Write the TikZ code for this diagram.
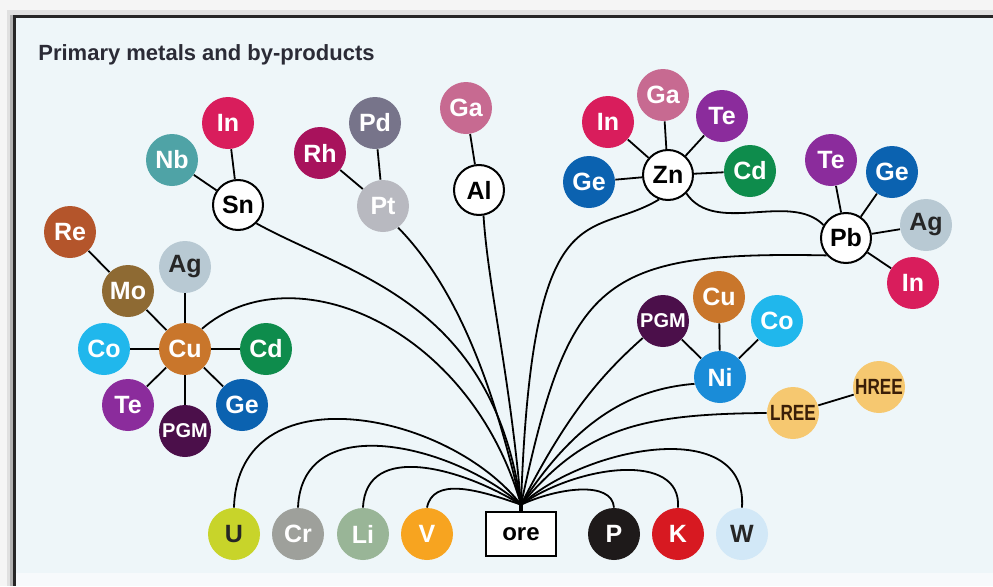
\documentclass[tikz,border=0pt]{standalone}
\usepackage{fontspec}
\setmainfont{Liberation Sans}
\usepackage{xcolor}
\usepackage{tikz}
\usetikzlibrary{positioning, calc}
\definecolor{panel}{HTML}{EEF6F9}
\definecolor{titletxt}{HTML}{2B2B36}
\definecolor{inred}{HTML}{D91D5C}
\definecolor{nbteal}{HTML}{4FA3A6}
\definecolor{rhmag}{HTML}{A8125C}
\definecolor{pdgray}{HTML}{77748A}
\definecolor{ptgray}{HTML}{B8B9C0}
\definecolor{gapink}{HTML}{C76A91}
\definecolor{tepurp}{HTML}{8B2C9C}
\definecolor{geblue}{HTML}{0B62B0}
\definecolor{cdgreen}{HTML}{0E8C4C}
\definecolor{aggray}{HTML}{B8C9D3}
\definecolor{rerust}{HTML}{B4552B}
\definecolor{mobrown}{HTML}{8E6A33}
\definecolor{cuorange}{HTML}{C9762B}
\definecolor{cocyan}{HTML}{20B7EC}
\definecolor{pgmdark}{HTML}{4B0F4A}
\definecolor{niblue}{HTML}{1A8CD8}
\definecolor{reeyell}{HTML}{F6C870}
\definecolor{reetxt}{HTML}{3A1E08}
\definecolor{ulime}{HTML}{C8D42A}
\definecolor{crgray}{HTML}{9EA09B}
\definecolor{ligreen}{HTML}{99B597}
\definecolor{vorange}{HTML}{F7A420}
\definecolor{pblack}{HTML}{1E1A1A}
\definecolor{kred}{HTML}{D71921}
\definecolor{wpale}{HTML}{D2E8F7}
\tikzset{
  el/.style={circle, fill=#1, text=white, minimum size=26pt, inner sep=0pt,
             font=\bfseries\fontsize{12.5}{12.5}\selectfont},
  eldk/.style={el=#1, text=black!85},
  grp/.style={el=pgmdark, font=\bfseries\fontsize{10}{10}\selectfont},
  ree/.style={el=reeyell, text=reetxt, font=\bfseries\fontsize{11}{11}\selectfont},
  host/.style={circle, draw, line width=1pt, fill=white, minimum size=25pt,
               inner sep=0pt, font=\bfseries\fontsize{12.5}{12.5}\selectfont},
  orebox/.style={rectangle, draw, line width=1.3pt, fill=white, minimum width=35pt,
                 minimum height=22pt, inner sep=0pt, font=\bfseries\fontsize{12}{12}\selectfont},
  link/.style={line width=0.9pt},
  feed/.style={line width=0.9pt},
}
\begin{document}
\begin{tikzpicture}[x=0.5pt, y=0.5pt]
  \useasboundingbox (0,0) rectangle (993,586);
  % frame and panel
  \fill[black!4] (0,0) rectangle (993,586);
  \fill[black!12] (7,0) rectangle (993,576);
  \fill[black!30] (10,0) rectangle (993,571);
  \fill[black!85] (13,0) rectangle (993,571);
  \fill[panel] (16,0) rectangle (993,568);
  \fill[panel!50!white] (16,0) rectangle (993,13);
  \node[anchor=base west, inner sep=0pt, text=titletxt,
        font=\bfseries\fontsize{11}{11}\selectfont] (title) at (38,526) {Primary metals and by-products};

  % tin
  \node[host] (sn) at (238,381) {Sn};
  \node[el=inred] (snIn) at (228,463) {In};
  \node[el=nbteal] (snNb) at (172,426) {Nb};
  % platinum
  \node[el=ptgray] (pt) at (383,380) {Pt};
  \node[el=rhmag] (ptRh) at (320,433) {Rh};
  \node[el=pdgray] (ptPd) at (375,463) {Pd};
  % aluminium
  \node[host] (al) at (479,396) {Al};
  \node[el=gapink] (alGa) at (466,478) {Ga};
  % zinc
  \node[host] (zn) at (668,411) {Zn};
  \node[el=inred] (znIn) at (608,464) {In};
  \node[el=gapink] (znGa) at (663,491) {Ga};
  \node[el=tepurp] (znTe) at (722,470) {Te};
  \node[el=geblue] (znGe) at (589,404) {Ge};
  \node[el=cdgreen] (znCd) at (750,415) {Cd};
  % lead
  \node[host] (pb) at (846,348) {Pb};
  \node[el=tepurp] (pbTe) at (831,426) {Te};
  \node[el=geblue] (pbGe) at (892,414) {Ge};
  \node[eldk=aggray] (pbAg) at (926,361) {Ag};
  \node[el=inred] (pbIn) at (913,303) {In};
  % copper
  \node[el=cuorange] (cu) at (185,237) {Cu};
  \node[el=mobrown] (cuMo) at (128,295) {Mo};
  \node[el=rerust] (cuRe) at (70,354) {Re};
  \node[eldk=aggray] (cuAg) at (185,319) {Ag};
  \node[el=cocyan] (cuCo) at (104,237) {Co};
  \node[el=cdgreen] (cuCd) at (266,237) {Cd};
  \node[el=tepurp] (cuTe) at (128,181) {Te};
  \node[grp] (cuPGM) at (185,155) {PGM};
  \node[el=geblue] (cuGe) at (242,181) {Ge};
  % nickel
  \node[el=niblue] (ni) at (720,209) {Ni};
  \node[grp] (niPGM) at (663,265) {PGM};
  \node[el=cuorange] (niCu) at (719,289) {Cu};
  \node[el=cocyan] (niCo) at (777,265) {Co};
  % rare earths
  \node[ree] (lree) at (793,173) {\scalebox{0.78}[1]{LREE}};
  \node[ree] (hree) at (879,199) {\scalebox{0.78}[1]{HREE}};
  % bottom row
  \node[eldk=ulime] (u) at (234,52) {U};
  \node[el=crgray] (cr) at (298,52) {Cr};
  \node[el=ligreen] (li) at (363,52) {Li};
  \node[el=vorange] (v) at (427,52) {V};
  \node[orebox] (ore) at (521,52) {ore};
  \node[el=pblack] (p) at (614,52) {P};
  \node[el=kred] (k) at (678,52) {K};
  \node[eldk=wpale] (w) at (742,52) {W};
  \coordinate (hub) at ($(ore.north)+(0,6)$);

  % by-product links
  \draw[link] (sn) -- (snIn);
  \draw[link] (sn) -- (snNb);
  \draw[link] (pt) -- (ptRh);
  \draw[link] (pt) -- (ptPd);
  \draw[link] (al) -- (alGa);
  \draw[link] (zn) -- (znIn);
  \draw[link] (zn) -- (znGa);
  \draw[link] (zn) -- (znTe);
  \draw[link] (zn) -- (znGe);
  \draw[link] (zn) -- (znCd);
  \draw[link] (pb) -- (pbTe);
  \draw[link] (pb) -- (pbGe);
  \draw[link] (pb) -- (pbAg);
  \draw[link] (pb) -- (pbIn);
  \draw[link] (cu) -- (cuMo);
  \draw[link] (cuMo) -- (cuRe);
  \draw[link] (cu) -- (cuAg);
  \draw[link] (cu) -- (cuCo);
  \draw[link] (cu) -- (cuCd);
  \draw[link] (cu) -- (cuTe);
  \draw[link] (cu) -- (cuPGM);
  \draw[link] (cu) -- (cuGe);
  \draw[link] (ni) -- (niPGM);
  \draw[link] (ni) -- (niCu);
  \draw[link] (ni) -- (niCo);
  \draw[link] (lree) -- (hree);

  % ore feeds
  \draw[line width=2pt] (ore.north) -- (hub);
  \draw[feed] (hub) .. controls (447,176) and (238,215) .. (u.north);
  \draw[feed] (hub) .. controls (454,141) and (302,178) .. (cr.north);
  \draw[feed] (hub) .. controls (462,118) and (366,145) .. (li.north);
  \draw[feed] (hub) .. controls (474,98) and (433,108) .. (v.north);
  \draw[feed] (hub) .. controls (557,98) and (612,106) .. (p.north);
  \draw[feed] (hub) .. controls (578,121) and (682,135) .. (k.north);
  \draw[feed] (hub) .. controls (588,141) and (748,170) .. (w.north);
  \draw[feed] (hub) .. controls (585,158) and (640,172) .. (lree.west);
  \draw[feed] (hub) .. controls (575,165) and (630,197) .. (ni.195);
  \draw[feed] (hub) .. controls (566,170) and (600,210) .. (niPGM.220);
  \draw[feed] (hub) .. controls (569,306) and (600,335) .. (pb.222);
  \draw[feed] (hub) .. controls (532,401) and (590,345) .. (zn.250);
  \draw[feed] (zn.315) .. controls (715,350) and (790,395) .. (pb.150);
  \draw[feed] (hub) .. controls (510,210) and (488,300) .. (al.280);
  \draw[feed] (hub) .. controls (492,208) and (455,300) .. (pt.305);
  \draw[feed] (hub) .. controls (492,285) and (352,310) .. (sn.315);
  \draw[feed] (hub) .. controls (470,260) and (292,335) .. (cu.50);
\end{tikzpicture}
\end{document}
